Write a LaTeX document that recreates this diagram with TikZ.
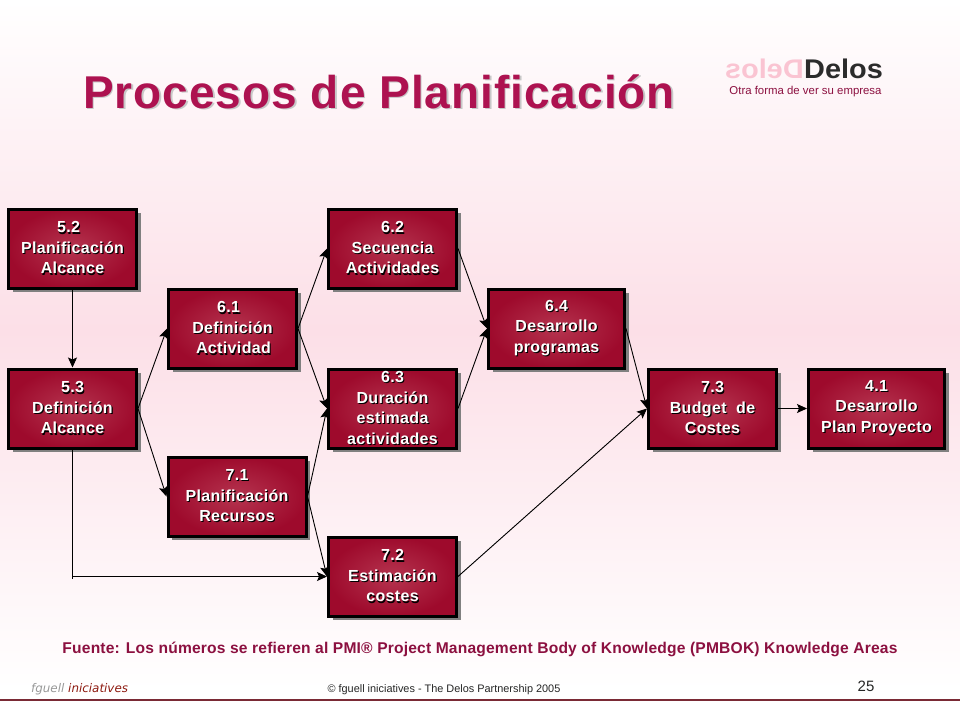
\documentclass[tikz,border=0pt]{standalone}
\usepackage{fontspec}
\setmainfont{Liberation Sans}
\newfontfamily\brandfont{DejaVu Sans}
\usetikzlibrary{shadows,arrows.meta,calc}
\definecolor{pinkbg}{HTML}{FCDFE7}
\definecolor{boxin}{HTML}{B5344F}
\definecolor{boxout}{HTML}{9E0A2C}
\definecolor{titlec}{HTML}{AD1250}
\definecolor{footc}{HTML}{8C1040}
\definecolor{logop}{HTML}{FAC4D2}
\definecolor{logod}{HTML}{2B2B2B}
\definecolor{linec}{HTML}{7A2A35}
\definecolor{brandr}{HTML}{8E1A10}
\newcommand{\shl}[1]{\leavevmode\rlap{\kern1.1pt\raisebox{-1.1pt}{\color{black}#1}}#1}
\tikzset{
  procbox/.style={draw=black,line width=3pt,inner color=boxin,outer color=boxout,
    drop shadow={shadow xshift=4pt,shadow yshift=-4pt,fill=black!50,opacity=1},
    minimum width=#1,minimum height=79pt,inner sep=0pt,text=white,align=center,
    execute at begin node={\rule{0pt}{14.5pt}},
    font=\fontsize{16}{20.5}\selectfont\bfseries\addfontfeature{LetterSpace=2.2}},
  procbox/.default=128pt,
  link/.style={draw=black,line width=0.9pt,-{Stealth[length=10pt,width=9pt,inset=2pt]}},
  plainline/.style={draw=black,line width=0.9pt},
  plain/.style={inner sep=0pt,anchor=base}
}
\begin{document}
\begin{tikzpicture}[x=1pt,y=-1pt]
\useasboundingbox (0,0) rectangle (960,720);
\shade[top color=white,bottom color=pinkbg] (0,0) rectangle (960,330);
\shade[top color=pinkbg,bottom color=white] (0,330) rectangle (960,690);
\fill[white] (0,690) rectangle (960,720);

% title and logo
\node[plain,anchor=base west,text=titlec,font=\fontsize{46}{50}\selectfont\bfseries\addfontfeature{LetterSpace=2.15}] (title) at (83,108)
  {\leavevmode\rlap{\kern1.6pt\raisebox{-1.6pt}{\color{black!22}Procesos de Planificación}}Procesos de Planificación};
\node[plain,anchor=base west,text=logod,font=\fontsize{27}{30}\selectfont\bfseries,xscale=1.07] (logoa) at (804,78) {Delos};
\node[plain,anchor=base west,text=logop,font=\fontsize{27}{30}\selectfont\bfseries,xscale=-1.07] (logob) at (804,78) {Delos};
\node[plain,text=footc,font=\fontsize{11.4}{12}\selectfont] (tag) at (805.5,94) {Otra forma de ver su empresa};

% boxes
\node[procbox] (n52) at (72.5,248.5) {\shl{5.2}\hspace*{8pt}\\\shl{Planificación}\\\shl{Alcance}};
\node[procbox] (n53) at (72.5,408.5) {\shl{5.3}\\\shl{Definición}\\\shl{Alcance}};
\node[procbox] (n61) at (232.5,328.5) {\shl{6.1}\hspace*{8pt}\\\shl{Definición}\\\hspace*{2pt}\shl{Actividad}};
\node[procbox=138pt] (n71) at (237,496.5) {\shl{7.1}\\\shl{Planificación}\\\shl{Recursos}};
\node[procbox] (n62) at (392.5,248.5) {\shl{6.2}\\\shl{Secuencia}\\\shl{Actividades}};
\node[procbox,execute at begin node={}] (n63) at (392.5,408.5) {\shl{6.3}\\\shl{Duración}\\\shl{estimada}\\\shl{actividades}};
\node[procbox] (n72) at (392.5,576.5) {\shl{7.2}\\\shl{Estimación}\\\shl{costes}};
\node[procbox=136pt] (n64) at (556.5,328.5) {\shl{6.4}\\\shl{Desarrollo}\\\shl{programas}};
\node[procbox] (n73) at (712.5,408.5) {\shl{7.3}\\\shl{Budget\ \ de}\\\shl{Costes}};
\node[procbox=136pt] (n41) at (876.5,408.5) {\shl{4.1}\\\shl{Desarrollo}\\\shl{Plan Proyecto}};

% connectors
\draw[link] (n52.south) -- (n53.north);
\draw[link] (n53.east) -- (n61.west);
\draw[link] (n53.east) -- (n71.west);
\draw[link] (n61.east) -- (n62.west);
\draw[link] (n61.east) -- (n63.west);
\draw[link] (n71.east) -- (n63.west);
\draw[link] (n71.east) -- (n72.west);
\draw[link] (n62.east) -- (n64.west);
\draw[link] (n63.east) -- (n64.west);
\draw[link] (n64.east) -- (n73.west);
\draw[link] (n72.east) -- (n73.west);
\draw[link] (n73.east) -- (n41.west);
\coordinate (elbow) at ($(n53.south |- n72.west)+(0,2)$);
\draw[plainline] (n53.south) -- (elbow);
\draw[link] (n53.south |- n72.west) -- (n72.west);

% footer
\node[plain,text=footc,font=\fontsize{15.6}{16}\selectfont\bfseries\addfontfeature{LetterSpace=1.2}] (src) at (480,653)
  {Fuente: Los números se refieren al PMI® Project Management Body of Knowledge (PMBOK) Knowledge Areas};
\node[plain,anchor=base west,font=\brandfont\fontsize{11.9}{14}\selectfont\itshape] (brand) at (31,692)
  {\textcolor{black!40}{fguell} \textcolor{brandr}{iniciatives}};
\node[plain,text=black!85,font=\fontsize{10.9}{12}\selectfont] (copy) at (444,692) {© fguell iniciatives - The Delos Partnership 2005};
\node[plain,text=black!85,font=\fontsize{15}{16}\selectfont] (page) at (866,691) {25};
\coordinate (la) at (0,700);
\coordinate (lb) at (960,700);
\draw[linec,line width=1.6pt] (la) -- (lb);
\end{tikzpicture}
\end{document}
